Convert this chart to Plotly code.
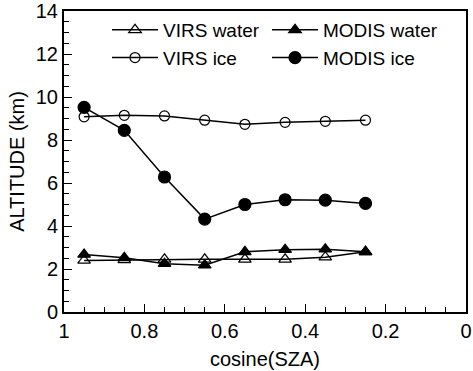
import plotly.graph_objects as go

cos_sza = [0.95, 0.85, 0.75, 0.65, 0.55, 0.45, 0.35, 0.25]
virs_water = [2.40, 2.42, 2.45, 2.45, 2.45, 2.45, 2.55, 2.80]
modis_water = [2.68, 2.52, 2.25, 2.18, 2.80, 2.90, 2.92, 2.80]
virs_ice = [9.08, 9.15, 9.12, 8.92, 8.73, 8.82, 8.87, 8.92]
modis_ice = [9.52, 8.45, 6.28, 4.32, 5.00, 5.22, 5.20, 5.05]

FONT = "Liberation Sans, Arial, sans-serif"

fig = go.Figure()
series = [
    ("VIRS water", virs_water, "triangle-up-open", 11, "legend"),
    ("VIRS ice", virs_ice, "circle-open", 10, "legend"),
    ("MODIS water", modis_water, "triangle-up", 11, "legend2"),
    ("MODIS ice", modis_ice, "circle", 12, "legend2"),
]
for name, vals, sym, sz, leg in series:
    fig.add_trace(go.Scatter(
        x=cos_sza, y=vals, name=name, mode="lines+markers", legend=leg,
        line=dict(color="black", width=1.5),
        marker=dict(symbol=sym, size=sz, color="black", line=dict(color="black", width=1.2)),
    ))

axis_common = dict(
    showgrid=False, zeroline=False, showline=True, linecolor="black", linewidth=2,
    mirror=True, ticks="inside", ticklen=8, tickwidth=1.3, tickcolor="black",
    automargin=False, ticklabeloverflow="allow",
    tickfont=dict(family=FONT, size=20, color="black"),
)
fig.update_xaxes(
    range=[1, 0], tick0=0, dtick=0.2,
    minor=dict(dtick=0.05, ticks="inside", ticklen=5, tickcolor="black", tickwidth=1.2),
    title=dict(text="cosine(SZA)", font=dict(family=FONT, size=20, color="black"), standoff=11),
    **axis_common,
)
fig.update_yaxes(
    range=[0, 14], tick0=0, dtick=2,
    minor=dict(dtick=0.5, ticks="inside", ticklen=5, tickcolor="black", tickwidth=1.2),
    title=dict(text="ALTITUDE (km)", font=dict(family=FONT, size=20, color="black"), standoff=6),
    **axis_common,
)
legend_common = dict(
    orientation="v", xanchor="left", y=1.0, yanchor="top",
    itemwidth=46, bgcolor="rgba(0,0,0,0)",
    font=dict(family=FONT, size=19, color="black"),
)
fig.update_layout(
    width=473, height=371,
    margin=dict(l=64, r=7, t=11, b=59),
    paper_bgcolor="white", plot_bgcolor="white",
    showlegend=True,
    legend=dict(x=0.107, **legend_common),
    legend2=dict(x=0.505, **legend_common),
)
fig.write_html("out.html", config={"displayModeBar": False},
               post_script="document.body.style.margin='0';")
